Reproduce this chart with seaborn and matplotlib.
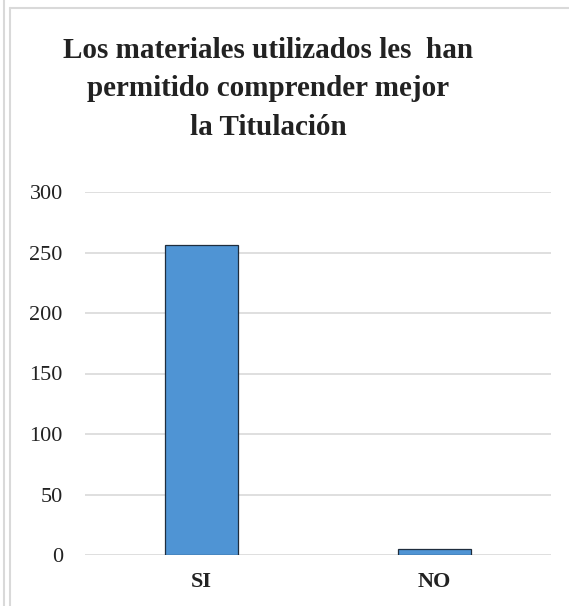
import numpy as np
import pandas as pd
import seaborn as sns
import matplotlib.pyplot as plt
from matplotlib.lines import Line2D

# Datos
categorias = ['SI', 'NO']
respuestas = [256, 5]
titulo = 'Los materiales utilizados les  han\npermitido comprender mejor\nla Titulación'

sns.set_theme(style='white')
plt.rcParams['font.family'] = ['Liberation Serif', 'DejaVu Serif']

df = pd.DataFrame({'Respuesta': categorias, 'Total': respuestas})

fig = plt.figure(figsize=(5.69, 6.06), dpi=100)
ax = fig.add_axes([85 / 569, 1 - 555 / 606, (551 - 85) / 569, (555 - 192) / 606])

sns.barplot(data=df, x='Respuesta', y='Total', color='#4f94d4', width=0.31,
            edgecolor='#1f2d3d', linewidth=0.9, saturation=1, ax=ax, zorder=3)

ax.set_ylim(0, 300)
ax.set_yticks(np.arange(0, 301, 50))
ax.set_xlim(-0.5, 1.5)
ax.grid(axis='y', color='#d9d9d9', linewidth=1.2, zorder=0)
for s in ax.spines.values():
    s.set_visible(False)
ax.tick_params(axis='y', labelsize=16, length=0, pad=16, colors='#222222')
ax.tick_params(axis='x', labelsize=16, length=0, pad=12, colors='#222222')
for lab in ax.get_xticklabels():
    lab.set_fontweight('bold')
ax.set_xlabel('')
ax.set_ylabel('')

fig.text(268 / 569, 1 - 89 / 606, titulo, ha='center', va='center', fontsize=21,
         fontweight='bold', color='#222222', linespacing=1.55)

# marco del gráfico
fig.add_artist(Line2D([10 / 569, 10 / 569], [0, 1 - 8 / 606], color='#d9d9d9', lw=1.5))
fig.add_artist(Line2D([4 / 569, 4 / 569], [0, 1], color='#d9d9d9', lw=1.5))
fig.add_artist(Line2D([10 / 569, 1], [1 - 8 / 606, 1 - 8 / 606], color='#d9d9d9', lw=1.5))

fig.savefig('out.png', dpi=100)
